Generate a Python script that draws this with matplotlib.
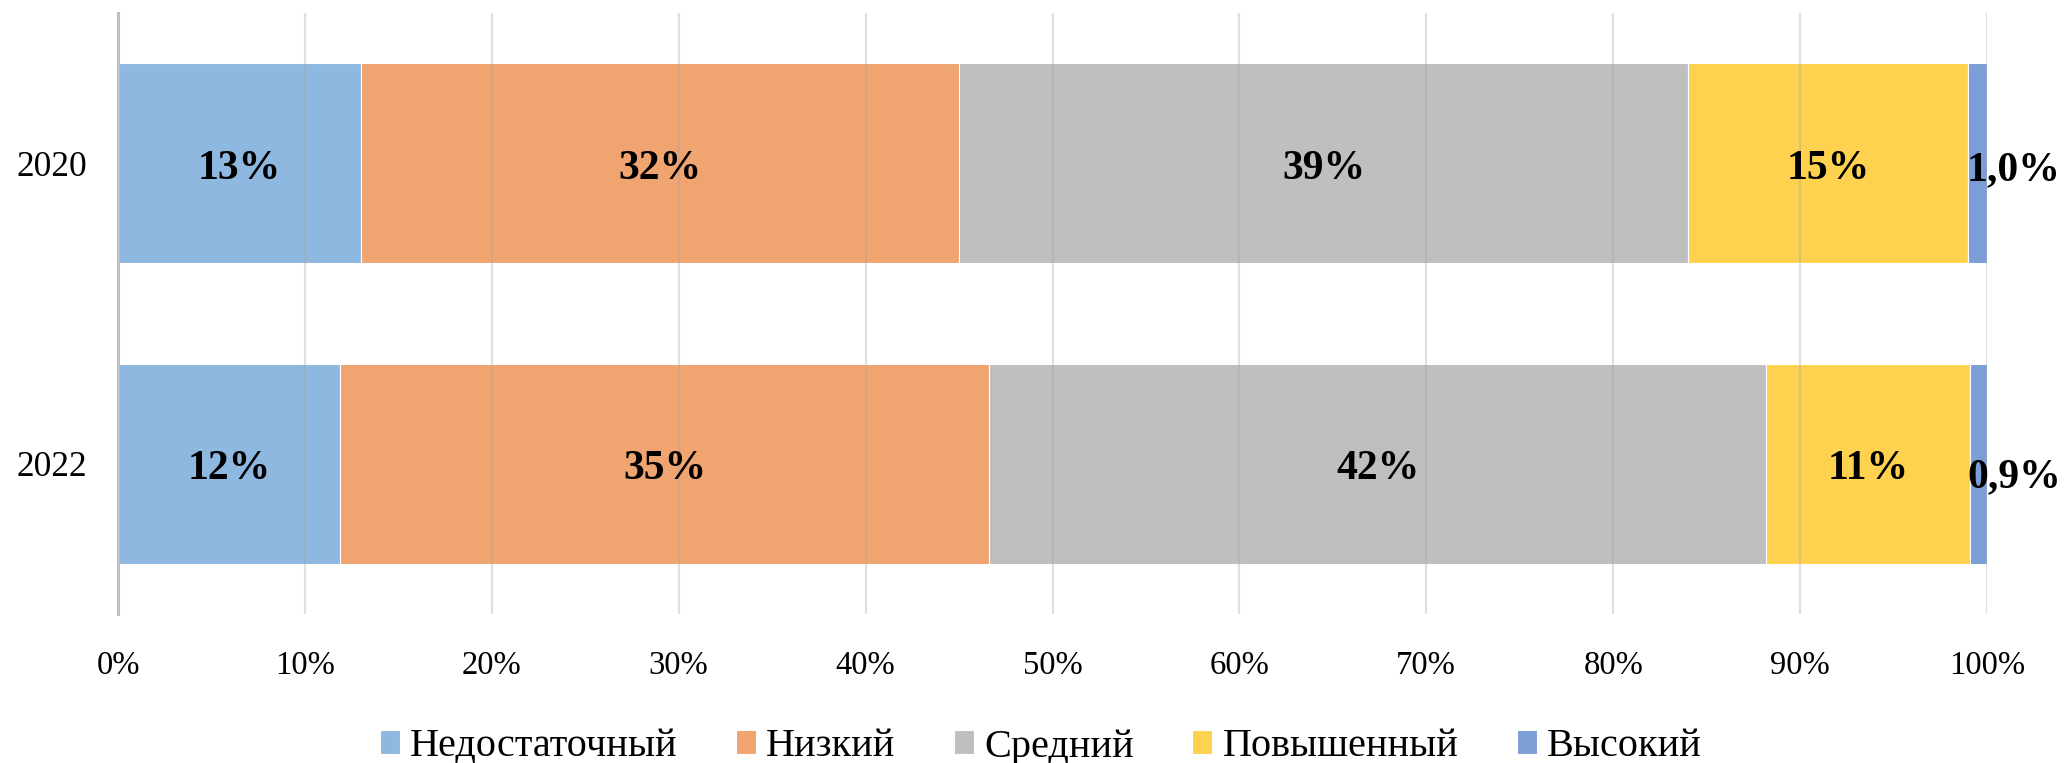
import matplotlib
matplotlib.use("Agg")
import matplotlib.pyplot as plt
from matplotlib.ticker import PercentFormatter
import numpy as np

plt.rcParams['font.family'] = ['Liberation Serif', 'DejaVu Serif']

years = ["2020", "2022"]
categories = ["Недостаточный", "Низкий", "Средний", "Повышенный", "Высокий"]
vals_2020 = [13.0, 32.0, 39.0, 15.0, 1.0]
vals_2022 = [11.9, 34.7, 41.6, 10.9, 0.9]
colors = ["#8FB8E0", "#F0A46F", "#BFBFBF", "#FED24F", "#7C9ED6"]
xticks = [0, 10, 20, 30, 40, 50, 60, 70, 80, 90, 100]

data = np.array([vals_2020, vals_2022])

fig = plt.figure(figsize=(20.65, 7.63), dpi=100)
ax = fig.add_axes([118/2065, 1-614/763, (1987-118)/2065, (614-13)/763])

ypos = np.arange(len(years))
left = np.zeros(len(years))
for j, cat in enumerate(categories):
    w = data[:, j]
    ax.barh(ypos, w, left=left, height=0.667, color=colors[j],
            edgecolor='white', linewidth=0.8, label=cat, zorder=2)
    for i in range(len(years)):
        v = w[i]
        if v < 5:
            txt = f"{v:.1f}".replace('.', ',') + "%"
            off = (26, -5 if i == 0 else -10)
        else:
            txt = f"{v:.0f}%"
            off = (0, -4)
        ax.annotate(txt, (left[i] + v/2, ypos[i]), xytext=off,
                    textcoords='offset points', ha='center', va='center',
                    fontsize=30, fontweight='bold', zorder=4)
    left = left + w

ax.set_xlim(0, 100)
ax.set_ylim(1.5, -0.5)
ax.set_xticks(xticks)
ax.xaxis.set_major_formatter(PercentFormatter(decimals=0))
ax.set_yticks(ypos)
ax.set_yticklabels(years)
ax.tick_params(axis='x', length=0, pad=26, labelsize=23.5)
ax.tick_params(axis='y', length=0, pad=22, labelsize=25.5)
for lab in ax.get_yticklabels():
    lab.set_y(lab.get_position()[1])
ax.grid(axis='x', color='#A6A6A6', alpha=0.35, linewidth=1.6, zorder=3)
ax.set_axisbelow(False)
for s in ['top', 'right', 'bottom']:
    ax.spines[s].set_visible(False)
ax.spines['left'].set_color('#BFBFBF')
ax.spines['left'].set_linewidth(2.2)
ax.spines['left'].set_zorder(5)

handles, labels = ax.get_legend_handles_labels()
fig.legend(handles, labels, loc='center', bbox_to_anchor=(0.504, 1-747/763),
           ncol=5, frameon=False, fontsize=29, handlelength=0.5, handleheight=0.55,
           handletextpad=0.25, columnspacing=1.45, borderaxespad=0)

fig.savefig("out.png", dpi=100)
